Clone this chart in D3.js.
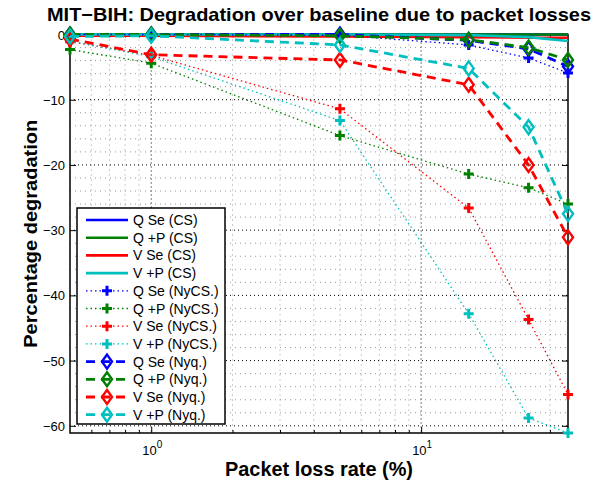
<!DOCTYPE html>
<html>
<head>
<meta charset="utf-8">
<script src="https://cdn.jsdelivr.net/npm/d3@7"></script>
<style>
  body { margin: 0; background: #fff; }
  svg text { font-family: "Liberation Sans", Arial, Helvetica, sans-serif; }
</style>
</head>
<body>
<div id="vis"></div>
<script>
// packet loss rates (x, log scale)
const lossRates = [0.5, 1, 5, 15, 25, 35]

const seriesNames = ['Q Se (CS)', 'Q +P (CS)', 'V Se (CS)', 'V +P (CS)',
    'Q Se (NyCS.)', 'Q +P (NyCS.)', 'V Se (NyCS.)', 'V +P (NyCS.)',
    'Q Se (Nyq.)', 'Q +P (Nyq.)', 'V Se (Nyq.)', 'V +P (Nyq.)']

// CS
const qSeCS = [0, 0, 0, 0, 0, 0]
const qpCS = [0, 0, 0, 0, 0, 0]
const vSeCS = [-0.2, -0.2, -0.3, -0.4, -0.5, -0.5]
const vpCS = [0, 0, 0, -0.1, -0.4, -1.0]
// NyCS
const qSeNyCS = [0, 0, -0.1, -1.6, -3.6, -5.9]
const qpNyCS = [-2.3, -4.4, -15.5, -21.4, -23.5, -26.0]
const vSeNyCS = [-1.1, -3.2, -11.4, -26.6, -43.7, -55.2]
const vpNyCS = [-1.0, -3.4, -13.2, -42.8, -58.8, -61.1]
// Nyquist
const qSeNyq = [0, 0, 0, -0.9, -2.2, -4.9]
const qpNyq = [0, 0, -0.2, -0.8, -2.0, -3.9]
const vSeNyq = [-0.7, -3.1, -3.9, -7.7, -20.0, -31.1]
const vpNyq = [-0.3, -0.2, -1.6, -5.2, -14.2, -27.5]

const yTicks = [0, -10, -20, -30, -40, -50, -60]
const xTicks = [1, 10]

const allValues = [qSeCS, qpCS, vSeCS, vpCS, qSeNyCS, qpNyCS, vSeNyCS, vpNyCS, qSeNyq, qpNyq, vSeNyq, vpNyq]
const colors = ['#0000ff', '#008000', '#ff0000', '#00bfbf']
const styles = ['cs', 'cs', 'cs', 'cs', 'nycs', 'nycs', 'nycs', 'nycs', 'nyq', 'nyq', 'nyq', 'nyq']

const series = seriesNames.map((name, i) => ({
    name: name,
    color: colors[i % 4],
    style: styles[i],
    values: allValues[i].map((v, j) => [lossRates[j], v])
}))

const margin = {left: 70, top: 34.5, right: 36, bottom: 51}
const W = 604, H = 484

const svg = d3.select('#vis').append('svg')
    .attr('width', W)
    .attr('height', H)

const x = d3.scaleLog()
    .domain(d3.extent(lossRates))
    .range([margin.left, W - margin.right])

const y = d3.scaleLinear()
    .domain([d3.min(allValues.flat()), 0])
    .range([H - margin.bottom, margin.top])

const x0 = x.range()[0], x1 = x.range()[1]
const yTop = y.range()[1], yBot = y.range()[0]

// grid: minor then major
const minorX = []
for (let d = 0.1; d <= 10; d *= 10) {
    for (let k = 2; k <= 9; k++) {
        const v = k * d
        if (v > 0.5 && v < 35) minorX.push(v)
    }
}
const minorY = d3.range(-60, 0, 2).filter(v => v % 10 !== 0)

const grid = svg.append('g')
grid.selectAll('.gx-minor').data(minorX).enter().append('line')
    .attr('x1', d => x(d)).attr('x2', d => x(d))
    .attr('y1', yTop).attr('y2', yBot)
    .attr('stroke', '#999').attr('stroke-width', 1)
    .attr('stroke-dasharray', '1,4')
grid.selectAll('.gy-minor').data(minorY).enter().append('line')
    .attr('x1', x0).attr('x2', x1)
    .attr('y1', d => y(d)).attr('y2', d => y(d))
    .attr('stroke', '#999').attr('stroke-width', 1)
    .attr('stroke-dasharray', '1,4')
grid.selectAll('.gx-major').data(xTicks).enter().append('line')
    .attr('x1', d => x(d)).attr('x2', d => x(d))
    .attr('y1', yTop).attr('y2', yBot)
    .attr('stroke', '#000').attr('stroke-width', 1)
    .attr('stroke-dasharray', '1,3')
grid.selectAll('.gy-major').data(yTicks).enter().append('line')
    .attr('x1', x0).attr('x2', x1)
    .attr('y1', d => y(d)).attr('y2', d => y(d))
    .attr('stroke', '#000').attr('stroke-width', 1)
    .attr('stroke-dasharray', '1,3')

// axes (inward ticks, box)
const axes = svg.append('g')
axes.append('g')
    .attr('transform', `translate(0,${yBot})`)
    .call(d3.axisTop(x).tickValues(xTicks).tickSize(6).tickFormat(''))
axes.append('g')
    .attr('transform', `translate(0,${yBot})`)
    .call(d3.axisTop(x).tickValues(minorX).tickSize(3).tickFormat(''))
axes.append('g')
    .attr('transform', `translate(0,${yTop})`)
    .call(d3.axisBottom(x).tickValues(xTicks).tickSize(6).tickFormat(''))
axes.append('g')
    .attr('transform', `translate(0,${yTop})`)
    .call(d3.axisBottom(x).tickValues(minorX).tickSize(3).tickFormat(''))
axes.append('g')
    .attr('transform', `translate(${x0},0)`)
    .call(d3.axisRight(y).tickValues(yTicks).tickSize(6).tickFormat(''))
axes.append('g')
    .attr('transform', `translate(${x1},0)`)
    .call(d3.axisLeft(y).tickValues(yTicks).tickSize(6).tickFormat(''))
axes.selectAll('.domain').remove()
axes.selectAll('line').attr('stroke', '#000')

svg.append('rect')
    .attr('x', x0).attr('y', yTop)
    .attr('width', x1 - x0).attr('height', yBot - yTop)
    .attr('fill', 'none').attr('stroke', '#000').attr('stroke-width', 1.5)

// tick labels
svg.selectAll('.ylab').data(yTicks).enter().append('text')
    .attr('x', x0 - 5)
    .attr('y', d => y(d) + 5)
    .attr('text-anchor', 'end')
    .attr('font-size', 13)
    .text(d => d3.format('d')(d).replace('-', '\u2212'))

const xl = svg.selectAll('.xlab').data(xTicks).enter().append('text')
    .attr('x', d => x(d) - 9)
    .attr('y', yBot + 22)
    .attr('font-size', 13)
xl.append('tspan').text('10')
xl.append('tspan').attr('dy', -7).attr('font-size', 10).text(d => Math.round(Math.log10(d)))

// lines
const line = d3.line()
    .x(d => x(d[0]))
    .y(d => y(d[1]))

const lineStyle = {
    cs: {w: 2.6, dash: null},
    nycs: {w: 1.3, dash: '1.5,3'},
    nyq: {w: 2.8, dash: '9,6'}
}

function plus(g, cx, cy, color) {
    g.append('path')
        .attr('d', `M${cx - 5},${cy}H${cx + 5}M${cx},${cy - 5}V${cy + 5}`)
        .attr('stroke', color).attr('stroke-width', 3).attr('fill', 'none')
}
function diamond(g, cx, cy, color) {
    g.append('path')
        .attr('d', `M${cx},${cy - 7}L${cx + 5},${cy}L${cx},${cy + 7}L${cx - 5},${cy}Z`)
        .attr('stroke', color).attr('stroke-width', 2.4).attr('fill', 'none')
}

series.forEach(s => {
    const g = svg.append('g')
    const st = lineStyle[s.style]
    g.append('path')
        .datum(s.values)
        .attr('d', line)
        .attr('fill', 'none')
        .attr('stroke', s.color)
        .attr('stroke-width', st.w)
        .attr('stroke-dasharray', st.dash)
    s.values.forEach(d => {
        if (s.style === 'nycs') plus(g, x(d[0]), y(d[1]), s.color)
        if (s.style === 'nyq') diamond(g, x(d[0]), y(d[1]), s.color)
    })
})

// legend
const leg = svg.append('g').attr('transform', 'translate(77,208)')
const rowH = 17.7
leg.append('rect')
    .attr('width', 148).attr('height', 216)
    .attr('fill', '#fff').attr('stroke', '#000').attr('stroke-width', 1.5)
series.forEach((s, i) => {
    const ry = 12 + i * rowH
    const st = lineStyle[s.style]
    leg.append('line')
        .attr('x1', 9).attr('x2', 51)
        .attr('y1', ry).attr('y2', ry)
        .attr('stroke', s.color)
        .attr('stroke-width', st.w)
        .attr('stroke-dasharray', st.dash)
    if (s.style === 'nycs') plus(leg, 30, ry, s.color)
    if (s.style === 'nyq') diamond(leg, 30, ry, s.color)
    leg.append('text')
        .attr('x', 56).attr('y', ry + 5)
        .attr('font-size', 14)
        .text(s.name)
})

// titles
svg.append('text')
    .attr('x', (x0 + x1) / 2).attr('y', 21)
    .attr('text-anchor', 'middle')
    .attr('font-size', 18.5).attr('font-weight', 'bold')
    .attr('textLength', 544).attr('lengthAdjust', 'spacingAndGlyphs')
    .text('MIT\u2212BIH: Degradation over baseline due to packet losses')

svg.append('text')
    .attr('x', (x0 + x1) / 2).attr('y', 476)
    .attr('text-anchor', 'middle')
    .attr('font-size', 20).attr('font-weight', 'bold')
    .attr('textLength', 188).attr('lengthAdjust', 'spacingAndGlyphs')
    .text('Packet loss rate (%)')

svg.append('text')
    .attr('transform', `translate(37,${(yTop + yBot) / 2}) rotate(-90)`)
    .attr('text-anchor', 'middle')
    .attr('font-size', 18).attr('font-weight', 'bold')
    .attr('textLength', 228).attr('lengthAdjust', 'spacingAndGlyphs')
    .text('Percentage degradation')
</script>
</body>
</html>
